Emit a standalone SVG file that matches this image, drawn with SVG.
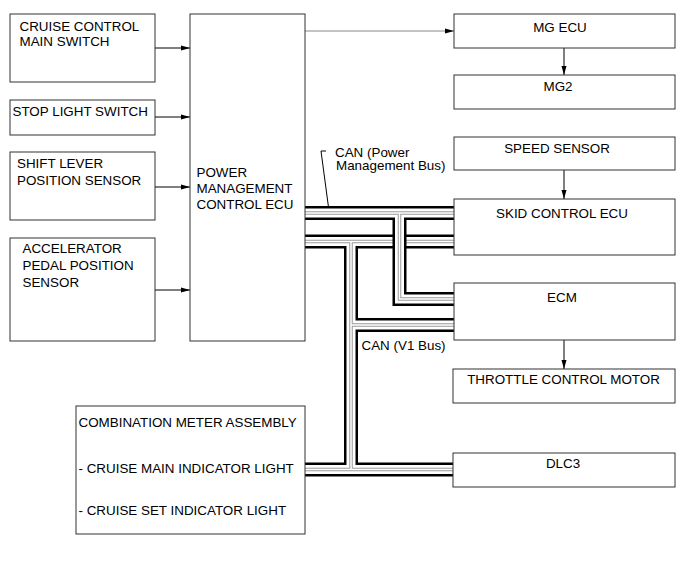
<svg xmlns="http://www.w3.org/2000/svg" width="691" height="562" viewBox="0 0 691 562">
<defs>
<marker id="ah" markerUnits="userSpaceOnUse" markerWidth="9" markerHeight="6" refX="9" refY="3" orient="auto">
<path d="M0,0.5 L9,3 L0,5.5 Z" fill="#000"/>
</marker>
<style>
.box{fill:#fff;stroke:#333;stroke-width:1}
.t{font-family:"Liberation Sans",Arial,sans-serif;font-size:13.4px;fill:#000}
.m{text-anchor:middle}
.c{fill:none;stroke:#000;stroke-width:1}
.cg{fill:none;stroke:#888;stroke-width:1}
.b1{fill:none;stroke:#000;stroke-width:14;stroke-linejoin:miter;stroke-linecap:butt}
.b2{fill:none;stroke:#fff;stroke-width:9;stroke-linejoin:miter;stroke-linecap:butt}
.b3{fill:none;stroke:#9a9a9a;stroke-width:3.5;stroke-linejoin:miter;stroke-linecap:butt}
.b4{fill:none;stroke:#fff;stroke-width:1.5;stroke-linejoin:miter;stroke-linecap:butt}
</style>
</defs>
<rect width="691" height="562" fill="#fff"/>

<g id="connectors">
<line class="c" x1="155" y1="48" x2="190" y2="48" marker-end="url(#ah)"/>
<line class="c" x1="155" y1="117" x2="190" y2="117" marker-end="url(#ah)"/>
<line class="c" x1="155" y1="187" x2="190" y2="187" marker-end="url(#ah)"/>
<line class="c" x1="155" y1="290" x2="190" y2="290" marker-end="url(#ah)"/>
<line class="cg" x1="305" y1="31" x2="454" y2="31" marker-end="url(#ah)"/>
<line class="c" x1="564" y1="48" x2="564" y2="75" marker-end="url(#ah)"/>
<line class="c" x1="564" y1="170" x2="564" y2="199" marker-end="url(#ah)"/>
<line class="c" x1="564" y1="340" x2="564" y2="369" marker-end="url(#ah)"/>
<polyline class="c" points="326,151 321,151 329,211" stroke="#333"/>
<g id="v1bus">
<path class="b1" d="M305,241.5 H455 M351,241.5 V469.5 M351,325 H455 M305,469.5 H453"/>
<path class="b2" d="M305,241.5 H455 M351,241.5 V469.5 M351,325 H455 M305,469.5 H453"/>
<path class="b3" d="M305,241.5 H455 M351,241.5 V469.5 M351,325 H455 M305,469.5 H453"/>
<path class="b4" d="M305,241.5 H455 M351,241.5 V469.5 M351,325 H455 M305,469.5 H453"/>
</g>
<g id="pmbus">
<path class="b1" d="M305,213 H455 M399.5,213 V299 H455"/>
<path class="b2" d="M305,213 H455 M399.5,213 V299 H455"/>
<path class="b3" d="M305,213 H455 M399.5,213 V299 H455"/>
<path class="b4" d="M305,213 H455 M399.5,213 V299 H455"/>
</g>
</g>

<g id="cruise-main-switch"><rect class="box" x="10" y="14" width="145" height="68"/>
<text class="t" x="19.5" y="30.5">CRUISE CONTROL</text><text class="t" x="19.5" y="46">MAIN SWITCH</text></g>
<g id="stop-light-switch"><rect class="box" x="10" y="100" width="145" height="35"/>
<text class="t" x="12.5" y="116">STOP LIGHT SWITCH</text></g>
<g id="shift-lever"><rect class="box" x="10" y="152" width="145" height="68"/>
<text class="t" x="17" y="168">SHIFT LEVER</text><text class="t" x="17" y="185">POSITION SENSOR</text></g>
<g id="accelerator"><rect class="box" x="10" y="238" width="145" height="103"/>
<text class="t" x="22.5" y="253">ACCELERATOR</text><text class="t" x="22.5" y="270">PEDAL POSITION</text><text class="t" x="22.5" y="286.5">SENSOR</text></g>
<g id="pm-ecu"><rect class="box" x="190" y="14" width="115" height="327"/>
<text class="t" x="196.5" y="176.5">POWER</text><text class="t" x="196.5" y="192.5">MANAGEMENT</text><text class="t" x="196.5" y="208.5">CONTROL ECU</text></g>
<g id="mg-ecu"><rect class="box" x="454" y="14" width="221" height="34"/>
<text class="t m" x="560" y="31.5">MG ECU</text></g>
<g id="mg2"><rect class="box" x="454" y="75" width="221" height="34"/>
<text class="t m" x="558" y="90.5">MG2</text></g>
<g id="speed-sensor"><rect class="box" x="454" y="137" width="221" height="33"/>
<text class="t m" x="557" y="153">SPEED SENSOR</text></g>
<g id="skid-ecu"><rect class="box" x="454" y="199" width="221" height="56"/>
<text class="t m" x="562" y="218">SKID CONTROL ECU</text></g>
<g id="ecm"><rect class="box" x="454" y="283" width="221" height="57"/>
<text class="t m" x="562" y="302">ECM</text></g>
<g id="throttle"><rect class="box" x="453" y="369" width="222" height="34"/>
<text class="t m" x="563.5" y="384">THROTTLE CONTROL MOTOR</text></g>
<g id="dlc3"><rect class="box" x="453" y="453" width="222" height="34"/>
<text class="t m" x="563" y="468">DLC3</text></g>
<g id="combination-meter"><rect class="box" x="76" y="406" width="229" height="128"/>
<text class="t" x="78.5" y="426.5">COMBINATION METER ASSEMBLY</text>
<text class="t" x="78.5" y="473">- CRUISE MAIN INDICATOR LIGHT</text>
<text class="t" x="78.5" y="515">- CRUISE SET INDICATOR LIGHT</text></g>

<g id="labels">
<text class="t" x="335" y="156.5">CAN (Power</text>
<text class="t" x="336" y="170">Management Bus)</text>
<text class="t" x="361.5" y="350">CAN (V1 Bus)</text>
</g>
</svg>
